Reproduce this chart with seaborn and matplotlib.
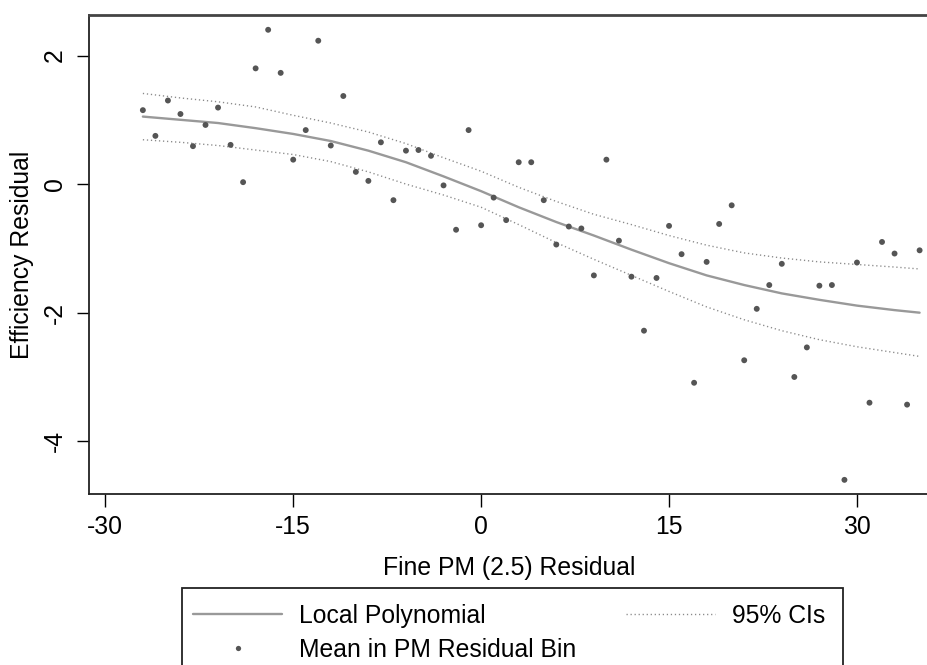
import numpy as np
import pandas as pd
import matplotlib
matplotlib.use("Agg")
import matplotlib.pyplot as plt
from matplotlib.lines import Line2D
from matplotlib.patches import Rectangle
import seaborn as sns

# ----------------------------
# Data
# ----------------------------
# bin centres of the PM residual bins
bin_x = [-27, -26, -25, -24, -23, -22, -21, -20, -19, -18, -17, -16, -15, -14,
         -13, -12, -11, -10, -9, -8, -7, -6, -5, -4, -3, -2, -1, 0,
         1, 2, 3, 4, 5, 6, 7, 8, 9, 10, 11, 12, 13, 14, 15, 16, 17, 18,
         19, 20, 21, 22, 23, 24, 25, 26, 27, 28, 29, 30, 31, 32, 33, 34, 35]
# mean efficiency residual in each bin
bin_mean = [1.15, 0.75, 1.30, 1.09, 0.59, 0.92, 1.19, 0.61, 0.03, 1.80, 2.40, 1.73, 0.38, 0.84,
            2.23, 0.60, 1.37, 0.19, 0.05, 0.65, -0.25, 0.52, 0.53, 0.44, -0.02, -0.71, 0.84, -0.64,
            -0.21, -0.56, 0.34, 0.34, -0.25, -0.94, -0.66, -0.69, -1.42, 0.38, -0.88, -1.44, -2.28,
            -1.46, -0.65, -1.09, -3.09, -1.21, -0.62, -0.33, -2.74, -1.94, -1.57, -1.24, -3.00,
            -2.54, -1.58, -1.57, -4.60, -1.22, -3.40, -0.90, -1.08, -3.43, -1.03]

# local polynomial fit and 95% CIs
fit_x = [-27, -24, -21, -18, -15, -12, -9, -6, -3, 0, 3, 6, 9, 12, 15, 18, 21, 24, 27, 30, 33, 35]
fit_y = [1.05, 1.00, 0.95, 0.87, 0.78, 0.67, 0.52, 0.34, 0.12, -0.11, -0.36, -0.59, -0.80,
         -1.02, -1.23, -1.42, -1.57, -1.70, -1.80, -1.89, -1.96, -2.00]
ci_hi = [1.41, 1.34, 1.28, 1.20, 1.07, 0.95, 0.81, 0.63, 0.41, 0.20, -0.05, -0.27, -0.47,
         -0.63, -0.80, -0.95, -1.07, -1.15, -1.21, -1.25, -1.29, -1.32]
ci_lo = [0.69, 0.65, 0.60, 0.53, 0.46, 0.35, 0.19, 0.00, -0.17, -0.36, -0.63, -0.91, -1.17,
         -1.42, -1.67, -1.91, -2.11, -2.28, -2.42, -2.53, -2.62, -2.68]

x_ticks = [-30, -15, 0, 15, 30]
y_ticks = [-4, -2, 0, 2]

bins = pd.DataFrame({"x": bin_x, "y": bin_mean})
fit = pd.DataFrame({"x": fit_x, "fit": fit_y, "hi": ci_hi, "lo": ci_lo})

# ----------------------------
# Style
# ----------------------------
sns.set_style("white")
plt.rcParams["font.family"] = ["Liberation Sans", "DejaVu Sans"]
plt.rcParams["font.size"] = 17.8
plt.rcParams["text.color"] = "black"
plt.rcParams["axes.labelcolor"] = "black"
plt.rcParams["xtick.color"] = "black"
plt.rcParams["ytick.color"] = "black"

fig = plt.figure(figsize=(9.27, 6.65), dpi=100)
W, H = 927, 665
ax = fig.add_axes([89 / W, (H - 494) / H, (929 - 89) / W, (494 - 15) / H])

line_col = "#999999"
ci_col = "#8a8a8a"
dot_col = "#555555"

sns.lineplot(data=fit, x="x", y="hi", ax=ax, color=ci_col, lw=1.0,
             linestyle=(0, (0.9, 2.0)), estimator=None, sort=False)
sns.lineplot(data=fit, x="x", y="lo", ax=ax, color=ci_col, lw=1.0,
             linestyle=(0, (0.9, 2.0)), estimator=None, sort=False)
sns.lineplot(data=fit, x="x", y="fit", ax=ax, color=line_col, lw=1.7,
             estimator=None, sort=False)
sns.scatterplot(data=bins, x="x", y="y", ax=ax, color=dot_col, s=18,
                edgecolor="none", linewidth=0, zorder=4)

ax.set_xlim(-31.3, 35.75)
ax.set_ylim(-4.82, 2.63)
ax.set_xticks(x_ticks)
ax.set_yticks(y_ticks)
ax.set_xticklabels([str(v) for v in x_ticks])
ax.set_yticklabels([str(v) for v in y_ticks], rotation=90, va="center")
ax.tick_params(axis="both", direction="out", length=9, width=1.0, color="black",
               labelsize=17.8, bottom=True, left=True)
ax.tick_params(axis="x", pad=6)
ax.tick_params(axis="y", pad=7)

for side in ["left", "bottom", "top", "right"]:
    ax.spines[side].set_color("#222222")
    ax.spines[side].set_linewidth(1.3)
ax.spines["top"].set_color("#444444")
ax.spines["top"].set_linewidth(2.0)

ax.set_xlabel("Fine PM (2.5) Residual", fontsize=17.8, labelpad=12)
ax.set_ylabel("Efficiency Residual", fontsize=17.8, labelpad=6)
ax.grid(False)

# ----------------------------
# Legend below the plot (box runs off the bottom edge)
# ----------------------------
handles = [
    Line2D([], [], color=line_col, lw=1.7),
    Line2D([], [], color=dot_col, marker="o", markersize=3.8, linestyle="none",
           markeredgewidth=0),
    Line2D([], [], color=ci_col, lw=1.0, linestyle=(0, (0.9, 2.0))),
]
labels = ["Local Polynomial", "Mean in PM Residual Bin", "95% CIs"]
leg = fig.legend(handles, labels, loc="upper left", bbox_to_anchor=(193 / W, 1 - 604 / H),
                 ncol=2, frameon=False, fontsize=17.8,
                 handlelength=3.6, handletextpad=0.7, columnspacing=2.0,
                 borderpad=0, labelspacing=0.4, borderaxespad=0)

box = Rectangle((182 / W, -0.05), (843 - 182) / W, 0.05 + (665 - 588) / H,
                transform=fig.transFigure, fill=False, edgecolor="#222222", lw=1.3)
fig.patches.append(box)

fig.savefig("out.png", dpi=100)
